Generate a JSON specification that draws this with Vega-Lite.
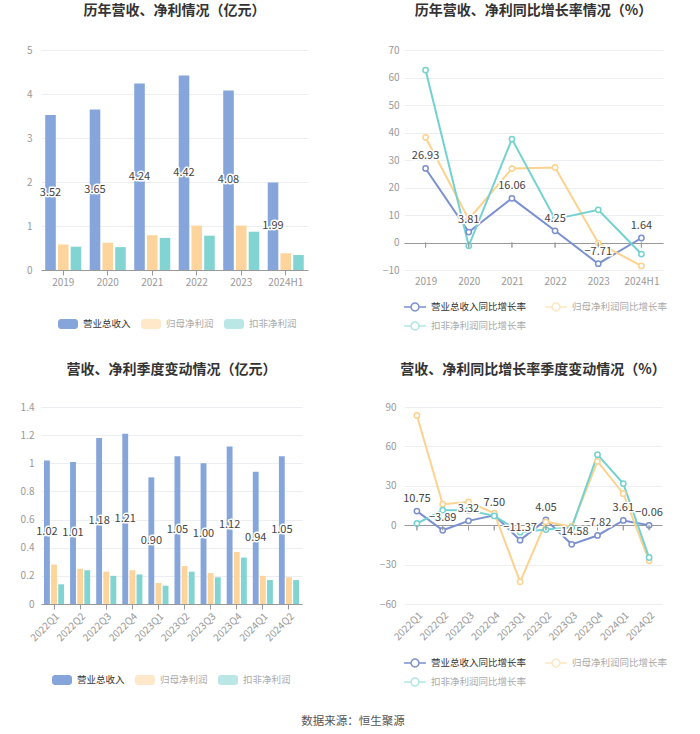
{
  "$schema": "https://vega.github.io/schema/vega-lite/v6.json",
  "background": "white",
  "padding": {"left": 0, "top": 4, "right": 0, "bottom": 0},
  "config": {
    "font": "Noto Sans CJK SC",
    "view": {"stroke": null},
    "axis": {"labelColor": "#999999", "labelFontSize": 10, "domainColor": "#999999", "tickColor": "#999999", "gridColor": "#eceef1", "labelFont": "Noto Sans CJK SC", "labelOverlap": false}
  },
  "title": {"text": "数据来源：恒生聚源", "orient": "bottom", "anchor": "middle", "fontSize": 11.5, "fontWeight": "normal", "color": "#555555", "offset": 27, "dx": 19},
  "datasets": {
    "annual": [
      {"period": "2019", "series": "营业总收入", "value": 3.52},
      {"period": "2019", "series": "归母净利润", "value": 0.58},
      {"period": "2019", "series": "扣非净利润", "value": 0.53},
      {"period": "2020", "series": "营业总收入", "value": 3.65},
      {"period": "2020", "series": "归母净利润", "value": 0.62},
      {"period": "2020", "series": "扣非净利润", "value": 0.52},
      {"period": "2021", "series": "营业总收入", "value": 4.24},
      {"period": "2021", "series": "归母净利润", "value": 0.79},
      {"period": "2021", "series": "扣非净利润", "value": 0.73},
      {"period": "2022", "series": "营业总收入", "value": 4.42},
      {"period": "2022", "series": "归母净利润", "value": 1.01},
      {"period": "2022", "series": "扣非净利润", "value": 0.78},
      {"period": "2023", "series": "营业总收入", "value": 4.08},
      {"period": "2023", "series": "归母净利润", "value": 1.01},
      {"period": "2023", "series": "扣非净利润", "value": 0.87},
      {"period": "2024H1", "series": "营业总收入", "value": 1.99},
      {"period": "2024H1", "series": "归母净利润", "value": 0.38},
      {"period": "2024H1", "series": "扣非净利润", "value": 0.34}
    ],
    "annualGrowth": [
      {"period": "2019", "series": "营业总收入同比增长率", "value": 26.93},
      {"period": "2020", "series": "营业总收入同比增长率", "value": 3.81},
      {"period": "2021", "series": "营业总收入同比增长率", "value": 16.06},
      {"period": "2022", "series": "营业总收入同比增长率", "value": 4.25},
      {"period": "2023", "series": "营业总收入同比增长率", "value": -7.71},
      {"period": "2024H1", "series": "营业总收入同比增长率", "value": 1.64},
      {"period": "2019", "series": "归母净利润同比增长率", "value": 38.2},
      {"period": "2020", "series": "归母净利润同比增长率", "value": 8.5},
      {"period": "2021", "series": "归母净利润同比增长率", "value": 26.9},
      {"period": "2022", "series": "归母净利润同比增长率", "value": 27.3},
      {"period": "2023", "series": "归母净利润同比增长率", "value": -0.2},
      {"period": "2024H1", "series": "归母净利润同比增长率", "value": -8.5},
      {"period": "2019", "series": "扣非净利润同比增长率", "value": 62.7},
      {"period": "2020", "series": "扣非净利润同比增长率", "value": -1.2},
      {"period": "2021", "series": "扣非净利润同比增长率", "value": 37.6},
      {"period": "2022", "series": "扣非净利润同比增长率", "value": 8.5},
      {"period": "2023", "series": "扣非净利润同比增长率", "value": 11.9},
      {"period": "2024H1", "series": "扣非净利润同比增长率", "value": -4.2}
    ],
    "quarter": [
      {"period": "2022Q1", "series": "营业总收入", "value": 1.02},
      {"period": "2022Q1", "series": "归母净利润", "value": 0.28},
      {"period": "2022Q1", "series": "扣非净利润", "value": 0.14},
      {"period": "2022Q2", "series": "营业总收入", "value": 1.01},
      {"period": "2022Q2", "series": "归母净利润", "value": 0.25},
      {"period": "2022Q2", "series": "扣非净利润", "value": 0.24},
      {"period": "2022Q3", "series": "营业总收入", "value": 1.18},
      {"period": "2022Q3", "series": "归母净利润", "value": 0.23},
      {"period": "2022Q3", "series": "扣非净利润", "value": 0.20},
      {"period": "2022Q4", "series": "营业总收入", "value": 1.21},
      {"period": "2022Q4", "series": "归母净利润", "value": 0.24},
      {"period": "2022Q4", "series": "扣非净利润", "value": 0.21},
      {"period": "2023Q1", "series": "营业总收入", "value": 0.90},
      {"period": "2023Q1", "series": "归母净利润", "value": 0.15},
      {"period": "2023Q1", "series": "扣非净利润", "value": 0.13},
      {"period": "2023Q2", "series": "营业总收入", "value": 1.05},
      {"period": "2023Q2", "series": "归母净利润", "value": 0.27},
      {"period": "2023Q2", "series": "扣非净利润", "value": 0.23},
      {"period": "2023Q3", "series": "营业总收入", "value": 1.00},
      {"period": "2023Q3", "series": "归母净利润", "value": 0.22},
      {"period": "2023Q3", "series": "扣非净利润", "value": 0.19},
      {"period": "2023Q4", "series": "营业总收入", "value": 1.12},
      {"period": "2023Q4", "series": "归母净利润", "value": 0.37},
      {"period": "2023Q4", "series": "扣非净利润", "value": 0.33},
      {"period": "2024Q1", "series": "营业总收入", "value": 0.94},
      {"period": "2024Q1", "series": "归母净利润", "value": 0.20},
      {"period": "2024Q1", "series": "扣非净利润", "value": 0.17},
      {"period": "2024Q2", "series": "营业总收入", "value": 1.05},
      {"period": "2024Q2", "series": "归母净利润", "value": 0.19},
      {"period": "2024Q2", "series": "扣非净利润", "value": 0.17}
    ],
    "quarterGrowth": [
      {"period": "2022Q1", "series": "营业总收入同比增长率", "value": 10.75},
      {"period": "2022Q2", "series": "营业总收入同比增长率", "value": -3.89},
      {"period": "2022Q3", "series": "营业总收入同比增长率", "value": 3.32},
      {"period": "2022Q4", "series": "营业总收入同比增长率", "value": 7.50},
      {"period": "2023Q1", "series": "营业总收入同比增长率", "value": -11.37},
      {"period": "2023Q2", "series": "营业总收入同比增长率", "value": 4.05},
      {"period": "2023Q3", "series": "营业总收入同比增长率", "value": -14.58},
      {"period": "2023Q4", "series": "营业总收入同比增长率", "value": -7.82},
      {"period": "2024Q1", "series": "营业总收入同比增长率", "value": 3.61},
      {"period": "2024Q2", "series": "营业总收入同比增长率", "value": -0.06},
      {"period": "2022Q1", "series": "归母净利润同比增长率", "value": 83.6},
      {"period": "2022Q2", "series": "归母净利润同比增长率", "value": 16.0},
      {"period": "2022Q3", "series": "归母净利润同比增长率", "value": 17.7},
      {"period": "2022Q4", "series": "归母净利润同比增长率", "value": 9.1},
      {"period": "2023Q1", "series": "归母净利润同比增长率", "value": -43.1},
      {"period": "2023Q2", "series": "归母净利润同比增长率", "value": 2.5},
      {"period": "2023Q3", "series": "归母净利润同比增长率", "value": -1.0},
      {"period": "2023Q4", "series": "归母净利润同比增长率", "value": 48.6},
      {"period": "2024Q1", "series": "归母净利润同比增长率", "value": 24.0},
      {"period": "2024Q2", "series": "归母净利润同比增长率", "value": -27.1},
      {"period": "2022Q1", "series": "扣非净利润同比增长率", "value": 1.3},
      {"period": "2022Q2", "series": "扣非净利润同比增长率", "value": 11.4},
      {"period": "2022Q3", "series": "扣非净利润同比增长率", "value": 11.4},
      {"period": "2022Q4", "series": "扣非净利润同比增长率", "value": 7.1},
      {"period": "2023Q1", "series": "扣非净利润同比增长率", "value": -5.3},
      {"period": "2023Q2", "series": "扣非净利润同比增长率", "value": -3.3},
      {"period": "2023Q3", "series": "扣非净利润同比增长率", "value": -1.8},
      {"period": "2023Q4", "series": "扣非净利润同比增长率", "value": 53.7},
      {"period": "2024Q1", "series": "扣非净利润同比增长率", "value": 31.7},
      {"period": "2024Q2", "series": "扣非净利润同比增长率", "value": -24.6}
    ]
  },
  "spacing": 30,
  "align": "none",
  "resolve": {"scale": {"color": "independent", "x": "independent", "y": "independent", "xOffset": "independent"}, "legend": {"color": "independent"}},
  "vconcat": [
    {
      "hconcat": [
        {
          "title": {"text": "历年营收、净利情况（亿元）", "fontSize": 14, "fontWeight": "bold", "color": "#333333", "offset": 27, "anchor": "middle"},
          "width": 267,
          "height": 220,
          "data": {"name": "annual"},
          "resolve": {"scale": {"y": "independent"}},
          "layer": [
            {
              "mark": {"type": "bar"},
              "encoding": {
                "x": {"field": "period", "type": "nominal", "sort": null, "scale": {"paddingInner": 0.19, "paddingOuter": 0.095}, "axis": {"title": null, "labelAngle": 0, "tickSize": 5, "labelPadding": 2, "grid": false}},
                "xOffset": {"field": "series", "sort": ["营业总收入", "归母净利润", "扣非净利润"], "scale": {"paddingInner": 0.17}},
                "y": {"field": "value", "type": "quantitative", "scale": {"domain": [0, 5], "nice": false}, "axis": {"title": null, "values": [0, 1, 2, 3, 4, 5], "tickCount": 20, "format": "d", "domain": false, "ticks": false, "labelPadding": 9, "minExtent": 35, "maxExtent": 35}},
                "color": {"field": "series", "type": "nominal", "sort": ["营业总收入", "归母净利润", "扣非净利润"], "scale": {"domain": ["营业总收入", "归母净利润", "扣非净利润"], "range": ["#86a5da", "#fdd59c", "#82d4d2"]},
                  "legend": {"orient": "none", "legendX": 17, "legendY": 264, "direction": "horizontal", "title": null, "symbolType": "M-0.7,-0.5H0.7A0.3,0.3 0 0 1 1,-0.2V0.2A0.3,0.3 0 0 1 0.7,0.5H-0.7A0.3,0.3 0 0 1 -1,0.2V-0.2A0.3,0.3 0 0 1 -0.7,-0.5Z", "symbolSize": 400, "symbolStrokeWidth": 0, "labelFontSize": 9.5, "labelOffset": 5, "columnPadding": 10,
                    "encode": {"symbols": {"update": {"opacity": {"signal": "datum.index === 0 ? 1 : 0.55"}}}, "labels": {"update": {"fill": {"signal": "datum.index === 0 ? '#333333' : '#aaaaaa'"}}}}}}
              }
            },
            {
              "transform": [{"filter": "datum.series === '营业总收入'"}],
              "mark": {"type": "text", "fontSize": 11, "color": "white", "stroke": "white", "strokeWidth": 3, "strokeJoin": "round"},
              "encoding": {
                "x": {"field": "period", "type": "nominal", "sort": null},
                "xOffset": {"field": "series", "sort": ["营业总收入", "归母净利润", "扣非净利润"]},
                "y": {"field": "value", "type": "quantitative", "scale": {"domain": [0, 10], "nice": false}, "axis": null},
                "text": {"field": "value", "type": "quantitative", "format": ".2f"}
              }
            },
            {
              "transform": [{"filter": "datum.series === '营业总收入'"}],
              "mark": {"type": "text", "fontSize": 11, "color": "#444444"},
              "encoding": {
                "x": {"field": "period", "type": "nominal", "sort": null},
                "xOffset": {"field": "series", "sort": ["营业总收入", "归母净利润", "扣非净利润"]},
                "y": {"field": "value", "type": "quantitative", "scale": {"domain": [0, 10], "nice": false}, "axis": null},
                "text": {"field": "value", "type": "quantitative", "format": ".2f"}
              }
            }
          ]
        },
        {
          "title": {"text": "历年营收、净利同比增长率情况（%）", "fontSize": 14, "fontWeight": "bold", "color": "#333333", "offset": 27, "anchor": "middle"},
          "width": 259,
          "height": 220,
          "data": {"name": "annualGrowth"},
          "layer": [
            {
              "mark": {"type": "line", "strokeWidth": 2, "point": {"filled": false, "fill": "white", "size": 28, "strokeWidth": 1.5}},
              "encoding": {
                "x": {"field": "period", "type": "ordinal", "sort": null, "scale": {"type": "point", "padding": 0.5}, "axis": {"title": null, "labelAngle": 0, "domain": false, "ticks": false, "labelPadding": 6}},
                "y": {"field": "value", "type": "quantitative", "scale": {"domain": [-10, 70], "nice": false, "zero": false}, "axis": {"title": null, "values": [-10, 0, 10, 20, 30, 40, 50, 60, 70], "tickCount": 20, "format": "d", "labelOverlap": false, "domain": false, "ticks": false, "grid": true, "gridColor": {"condition": {"test": "datum.value === 0", "value": "#999999"}, "value": "#eceef1"}, "labelPadding": 5, "minExtent": 30, "maxExtent": 30}},
                "color": {"field": "series", "type": "nominal", "sort": ["营业总收入同比增长率", "归母净利润同比增长率", "扣非净利润同比增长率"], "scale": {"domain": ["营业总收入同比增长率", "归母净利润同比增长率", "扣非净利润同比增长率"], "range": ["#7b90cf", "#fcd28e", "#72d2d0"]},
                  "legend": {"orient": "none", "legendX": -1, "legendY": 245, "direction": "horizontal", "columns": 2, "title": null, "symbolType": "M-1,0H-0.36M0.36,0H1M0.36,0A0.36,0.36 0 1 1 -0.36,0A0.36,0.36 0 1 1 0.36,0", "symbolSize": 484, "symbolStrokeWidth": 1.5, "symbolFillColor": "white", "labelFontSize": 9.5, "labelOffset": 4, "columnPadding": 15, "rowPadding": -4,
                    "encode": {"symbols": {"update": {"opacity": {"signal": "datum.index === 0 ? 1 : 0.55"}}}, "labels": {"update": {"fill": {"signal": "datum.index === 0 ? '#333333' : '#aaaaaa'"}}}}}}
              }
            },
            {
              "mark": {"type": "tick", "orient": "vertical", "color": "#999999", "size": 5, "thickness": 1, "yOffset": 2.5},
              "encoding": {
                "x": {"field": "period", "type": "ordinal", "sort": null},
                "y": {"datum": 0, "type": "quantitative"}
              }
            },
            {
              "transform": [{"filter": "datum.series === '营业总收入同比增长率'"}],
              "mark": {"type": "text", "fontSize": 11, "dy": -12, "color": "white", "stroke": "white", "strokeWidth": 3, "strokeJoin": "round"},
              "encoding": {
                "x": {"field": "period", "type": "ordinal", "sort": null},
                "y": {"field": "value", "type": "quantitative"},
                "text": {"field": "value", "type": "quantitative", "format": ".2f"}
              }
            },
            {
              "transform": [{"filter": "datum.series === '营业总收入同比增长率'"}],
              "mark": {"type": "text", "fontSize": 11, "dy": -12, "color": "#444444"},
              "encoding": {
                "x": {"field": "period", "type": "ordinal", "sort": null},
                "y": {"field": "value", "type": "quantitative"},
                "text": {"field": "value", "type": "quantitative", "format": ".2f"}
              }
            }
          ]
        }
      ],
      "spacing": 66,
      "resolve": {"scale": {"color": "independent", "x": "independent", "y": "independent", "xOffset": "independent"}, "legend": {"color": "independent"}}
    },
    {
      "hconcat": [
        {
          "title": {"text": "营收、净利季度变动情况（亿元）", "fontSize": 14, "fontWeight": "bold", "color": "#333333", "offset": 25, "anchor": "middle"},
          "width": 261,
          "height": 197,
          "data": {"name": "quarter"},
          "resolve": {"scale": {"y": "independent"}},
          "layer": [
            {
              "mark": {"type": "bar"},
              "encoding": {
                "x": {"field": "period", "type": "nominal", "sort": null, "scale": {"paddingInner": 0.23, "paddingOuter": 0.115}, "axis": {"title": null, "labelAngle": -45, "tickSize": 5, "labelPadding": 2, "grid": false}},
                "xOffset": {"field": "series", "sort": ["营业总收入", "归母净利润", "扣非净利润"], "scale": {"paddingInner": 0.18}},
                "y": {"field": "value", "type": "quantitative", "scale": {"domain": [0, 1.4], "nice": false}, "axis": {"title": null, "values": [0, 0.2, 0.4, 0.6, 0.8, 1, 1.2, 1.4], "tickCount": 20, "format": "~g", "domain": false, "ticks": false, "labelPadding": 7, "minExtent": 41, "maxExtent": 41}},
                "color": {"field": "series", "type": "nominal", "sort": ["营业总收入", "归母净利润", "扣非净利润"], "scale": {"domain": ["营业总收入", "归母净利润", "扣非净利润"], "range": ["#86a5da", "#fdd59c", "#82d4d2"]},
                  "legend": {"orient": "none", "legendX": 11, "legendY": 263, "direction": "horizontal", "title": null, "symbolType": "M-0.7,-0.5H0.7A0.3,0.3 0 0 1 1,-0.2V0.2A0.3,0.3 0 0 1 0.7,0.5H-0.7A0.3,0.3 0 0 1 -1,0.2V-0.2A0.3,0.3 0 0 1 -0.7,-0.5Z", "symbolSize": 400, "symbolStrokeWidth": 0, "labelFontSize": 9.5, "labelOffset": 5, "columnPadding": 10,
                    "encode": {"symbols": {"update": {"opacity": {"signal": "datum.index === 0 ? 1 : 0.55"}}}, "labels": {"update": {"fill": {"signal": "datum.index === 0 ? '#333333' : '#aaaaaa'"}}}}}}
              }
            },
            {
              "transform": [{"filter": "datum.series === '营业总收入'"}],
              "mark": {"type": "text", "fontSize": 11, "color": "white", "stroke": "white", "strokeWidth": 3, "strokeJoin": "round"},
              "encoding": {
                "x": {"field": "period", "type": "nominal", "sort": null},
                "xOffset": {"field": "series", "sort": ["营业总收入", "归母净利润", "扣非净利润"]},
                "y": {"field": "value", "type": "quantitative", "scale": {"domain": [0, 2.8], "nice": false}, "axis": null},
                "text": {"field": "value", "type": "quantitative", "format": ".2f"}
              }
            },
            {
              "transform": [{"filter": "datum.series === '营业总收入'"}],
              "mark": {"type": "text", "fontSize": 11, "color": "#444444"},
              "encoding": {
                "x": {"field": "period", "type": "nominal", "sort": null},
                "xOffset": {"field": "series", "sort": ["营业总收入", "归母净利润", "扣非净利润"]},
                "y": {"field": "value", "type": "quantitative", "scale": {"domain": [0, 2.8], "nice": false}, "axis": null},
                "text": {"field": "value", "type": "quantitative", "format": ".2f"}
              }
            }
          ]
        },
        {
          "title": {"text": "营收、净利同比增长率季度变动情况（%）", "fontSize": 14, "fontWeight": "bold", "color": "#333333", "offset": 25, "anchor": "middle"},
          "width": 258,
          "height": 197,
          "data": {"name": "quarterGrowth"},
          "layer": [
            {
              "mark": {"type": "line", "strokeWidth": 2, "point": {"filled": false, "fill": "white", "size": 28, "strokeWidth": 1.5}},
              "encoding": {
                "x": {"field": "period", "type": "ordinal", "sort": null, "scale": {"type": "point", "padding": 0.5}, "axis": {"title": null, "labelAngle": -45, "domain": false, "ticks": false, "labelPadding": 6}},
                "y": {"field": "value", "type": "quantitative", "scale": {"domain": [-60, 90], "nice": false, "zero": false}, "axis": {"title": null, "values": [-60, -30, 0, 30, 60, 90], "tickCount": 20, "format": "d", "labelOverlap": false, "domain": false, "ticks": false, "grid": true, "gridColor": {"condition": {"test": "datum.value === 0", "value": "#999999"}, "value": "#eceef1"}, "labelPadding": 8, "minExtent": 30, "maxExtent": 30}},
                "color": {"field": "series", "type": "nominal", "sort": ["营业总收入同比增长率", "归母净利润同比增长率", "扣非净利润同比增长率"], "scale": {"domain": ["营业总收入同比增长率", "归母净利润同比增长率", "扣非净利润同比增长率"], "range": ["#7b90cf", "#fcd28e", "#72d2d0"]},
                  "legend": {"orient": "none", "legendX": -1, "legendY": 244, "direction": "horizontal", "columns": 2, "title": null, "symbolType": "M-1,0H-0.36M0.36,0H1M0.36,0A0.36,0.36 0 1 1 -0.36,0A0.36,0.36 0 1 1 0.36,0", "symbolSize": 484, "symbolStrokeWidth": 1.5, "symbolFillColor": "white", "labelFontSize": 9.5, "labelOffset": 4, "columnPadding": 15, "rowPadding": -4,
                    "encode": {"symbols": {"update": {"opacity": {"signal": "datum.index === 0 ? 1 : 0.55"}}}, "labels": {"update": {"fill": {"signal": "datum.index === 0 ? '#333333' : '#aaaaaa'"}}}}}}
              }
            },
            {
              "mark": {"type": "tick", "orient": "vertical", "color": "#999999", "size": 5, "thickness": 1, "yOffset": 2.5},
              "encoding": {
                "x": {"field": "period", "type": "ordinal", "sort": null},
                "y": {"datum": 0, "type": "quantitative"}
              }
            },
            {
              "transform": [{"filter": "datum.series === '营业总收入同比增长率'"}],
              "mark": {"type": "text", "fontSize": 11, "dy": -12, "color": "white", "stroke": "white", "strokeWidth": 3, "strokeJoin": "round"},
              "encoding": {
                "x": {"field": "period", "type": "ordinal", "sort": null},
                "y": {"field": "value", "type": "quantitative"},
                "text": {"field": "value", "type": "quantitative", "format": ".2f"}
              }
            },
            {
              "transform": [{"filter": "datum.series === '营业总收入同比增长率'"}],
              "mark": {"type": "text", "fontSize": 11, "dy": -12, "color": "#444444"},
              "encoding": {
                "x": {"field": "period", "type": "ordinal", "sort": null},
                "y": {"field": "value", "type": "quantitative"},
                "text": {"field": "value", "type": "quantitative", "format": ".2f"}
              }
            }
          ]
        }
      ],
      "spacing": 72,
      "resolve": {"scale": {"color": "independent", "x": "independent", "y": "independent", "xOffset": "independent"}, "legend": {"color": "independent"}}
    }
  ]
}
